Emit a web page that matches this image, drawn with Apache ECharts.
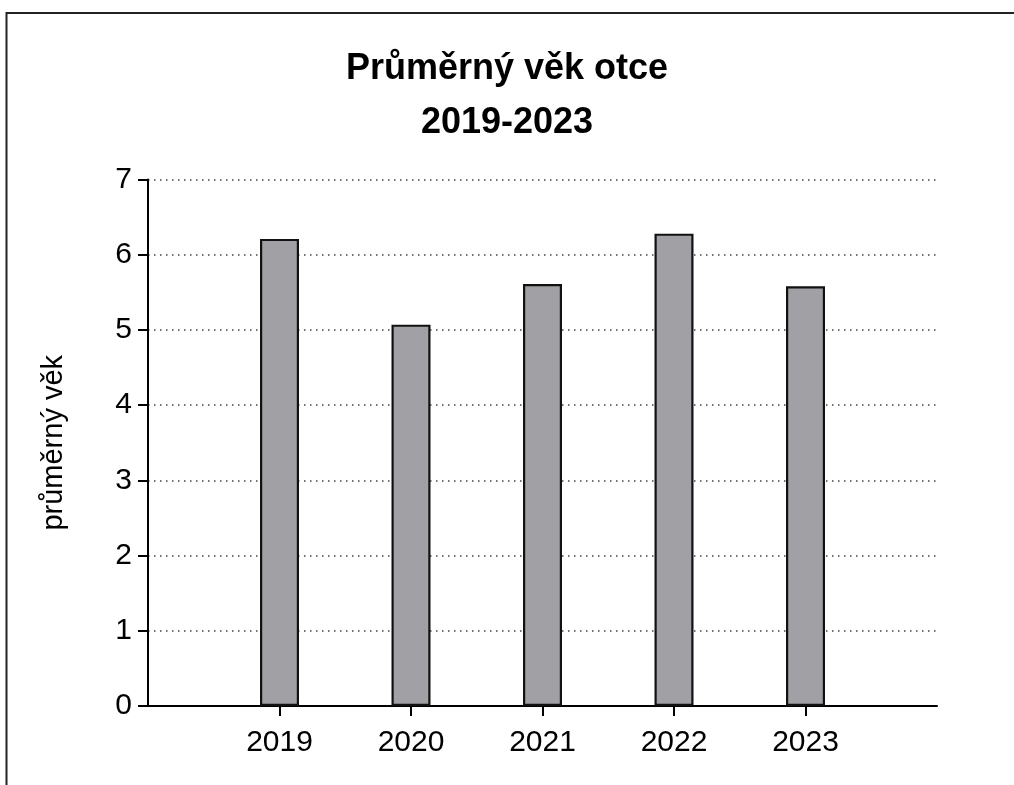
<!DOCTYPE html>
<html>
<head>
<meta charset="utf-8">
<script src="https://cdn.jsdelivr.net/npm/echarts@6/dist/echarts.min.js"></script>
<style>
  html, body { margin: 0; padding: 0; background: #fff; }
  #main { width: 1014px; height: 785px; }
</style>
</head>
<body>
<div id="main"></div>
<script>
var years = ['2019', '2020', '2021', '2022', '2023'];
var avgAge = [6.21, 5.07, 5.61, 6.28, 5.58];
var yTicks = [0, 1, 2, 3, 4, 5, 6, 7];

// empty slot on each side so the bars sit one step in from the axis ends
var cats = [''].concat(years, ['']);
var vals = ['-'].concat(avgAge, ['-']);

var chart = echarts.init(document.getElementById('main'), null, { renderer: 'canvas' });

var option = {
	animation: false,
	backgroundColor: '#fff',
	textStyle: { fontFamily: 'Liberation Sans, Arial, sans-serif' },
	graphic: [{
		type: 'rect',
		shape: { x: 6.5, y: 13, width: 1100, height: 900 },
		style: { fill: 'none', stroke: '#222', lineWidth: 2 },
		silent: true
	}, {
		type: 'text',
		x: 507,
		y: 42,
		silent: true,
		style: {
			text: 'Průměrný věk otce\n2019-2023',
			align: 'center',
			verticalAlign: 'top',
			font: 'bold 36px "Liberation Sans", Arial, sans-serif',
			lineHeight: 54,
			fill: '#000'
		}
	}],
	grid: {
		left: 148,
		right: 77,
		top: 179.5,
		bottom: 79,
		containLabel: false
	},
	xAxis: {
		type: 'category',
		data: cats,
		boundaryGap: false,
		axisLine: { lineStyle: { color: '#000', width: 2 } },
		axisTick: {
			length: 10,
			lineStyle: { color: '#000', width: 2 },
			interval: function (i) { return i > 0 && i < cats.length - 1; }
		},
		axisLabel: {
			interval: 0,
			margin: 22,
			fontSize: 30,
			color: '#000'
		},
		splitLine: { show: false }
	},
	yAxis: {
		type: 'value',
		min: yTicks[0],
		max: yTicks[yTicks.length - 1],
		interval: 1,
		name: 'průměrný věk',
		nameLocation: 'middle',
		nameRotate: 90,
		nameGap: 80,
		nameTextStyle: { fontSize: 29, color: '#000' },
		axisLine: { show: true, lineStyle: { color: '#000', width: 2 } },
		axisTick: { show: true, length: 10, lineStyle: { color: '#000', width: 2 } },
		axisLabel: { margin: 16, fontSize: 30, color: '#000' },
		splitLine: {
			show: true,
			lineStyle: { color: '#444', width: 1.5, type: [1.5, 4.5] }
		}
	},
	series: [{
		type: 'bar',
		data: vals,
		barWidth: 39,
		itemStyle: {
			color: '#a1a0a5',
			borderColor: '#111',
			borderWidth: 2.2
		}
	}]
};

chart.setOption(option);
</script>
</body>
</html>
